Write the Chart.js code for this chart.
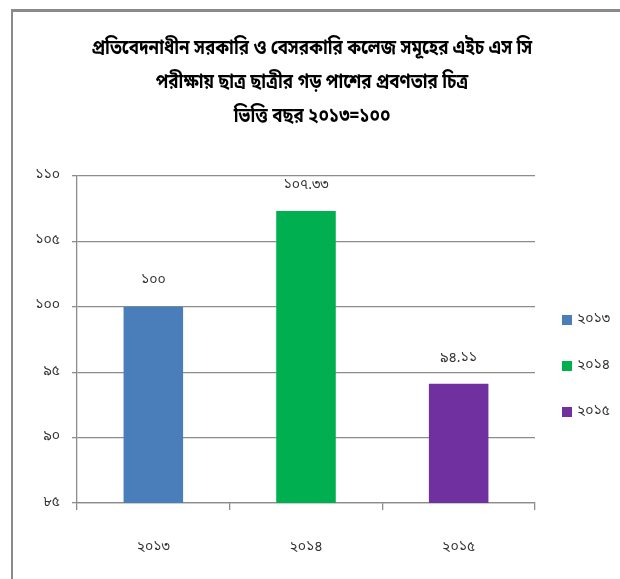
<!DOCTYPE html>
<html>
<head>
<meta charset="utf-8">
<script src="https://cdn.jsdelivr.net/npm/chart.js@4.4.1/dist/chart.umd.min.js"></script>
<style>
  html, body { margin: 0; padding: 0; background: #fff; }
  #wrap { position: relative; width: 620px; height: 579px; }
  #frame { position: absolute; left: 11px; top: 9px; right: 0; bottom: 0;
           border-top: 3px solid #8a8a8a; border-left: 2px solid #8a8a8a; pointer-events: none; }
  canvas { position: absolute; left: 0; top: 0; }
</style>
</head>
<body>
<div id="wrap">
  <canvas id="c" width="620" height="579"></canvas>
  <div id="frame"></div>
</div>
<script>
// ---- data ----
const categories = ['২০১৩', '২০১৪', '২০১৫'];
const values = [100, 107.33, 94.11];
const valueLabels = ['১০০', '১০৭.৩৩', '৯৪.১১'];
const barColors = ['#4A7EBB', '#00B050', '#7030A0'];
const yTickValues = [85, 90, 95, 100, 105, 110];
const yTickLabels = ['৮৫', '৯০', '৯৫', '১০০', '১০৫', '১১০'];
const titleLines = [
  'প্রতিবেদনাধীন সরকারি ও বেসরকারি কলেজ সমূহের এইচ এস সি',
  'পরীক্ষায় ছাত্র ছাত্রীর গড় পাশের প্রবণতার চিত্র',
  'ভিত্তি বছর ২০১৩=১০০'
];

const FONT = '"Noto Sans Bengali", "Noto Serif Bengali", "Lohit Bengali", "Noto Sans", sans-serif';

const titlePlugin = {
  id: 'centeredTitle',
  afterDraw(chart) {
    const ctx = chart.ctx;
    ctx.save();
    ctx.font = 'bold 21px ' + FONT;
    ctx.fillStyle = '#000';
    ctx.textAlign = 'center';
    ctx.textBaseline = 'middle';
    const cx = 312, y0 = 50, step = 34, sx = 0.81;
    titleLines.forEach((line, i) => {
      ctx.save();
      ctx.translate(cx, y0 + i * step);
      ctx.scale(sx, 1);
      ctx.fillText(line, 0, 0);
      ctx.restore();
    });
    ctx.restore();
  }
};

const valueLabelPlugin = {
  id: 'valueLabels',
  afterDatasetsDraw(chart) {
    const ctx = chart.ctx;
    const meta = chart.getDatasetMeta(0);
    ctx.save();
    ctx.font = '14px ' + FONT;
    ctx.fillStyle = '#333';
    ctx.textAlign = 'center';
    ctx.textBaseline = 'middle';
    meta.data.forEach((bar, i) => {
      ctx.fillText(valueLabels[i], bar.x, bar.y - 25);
    });
    ctx.restore();
  }
};

const legendPlugin = {
  id: 'customLegend',
  afterDraw(chart) {
    const ctx = chart.ctx;
    ctx.save();
    ctx.font = '14px ' + FONT;
    ctx.textBaseline = 'middle';
    ctx.textAlign = 'left';
    const x0 = 562, yStart = 320, step = 46;
    categories.forEach((c, i) => {
      const y = yStart + i * step;
      ctx.fillStyle = barColors[i];
      ctx.fillRect(x0, y - 5, 10, 10);
      ctx.fillStyle = '#333';
      ctx.fillText(c, x0 + 15, y);
    });
    ctx.restore();
  }
};

new Chart(document.getElementById('c'), {
  type: 'bar',
  data: {
    labels: categories,
    datasets: [{
      label: 'গড় পাশের প্রবণতা',
      data: values,
      backgroundColor: barColors,
      borderWidth: 0,
      barPercentage: 0.39,
      categoryPercentage: 1.0
    }]
  },
  options: {
    responsive: false,
    animation: false,
    layout: { padding: { left: 0, right: 85, top: 176, bottom: 0 } },
    plugins: {
      legend: { display: false },
      tooltip: { enabled: false },
      title: { display: false }
    },
    scales: {
      x: {
        offset: true,
        grid: { display: true, drawOnChartArea: false, drawTicks: true, tickLength: 7, color: '#8c8c8c', lineWidth: 1.3, offset: true },
        border: { display: true, color: '#8c8c8c', width: 1.3 },
        ticks: { color: '#333', font: { family: FONT, size: 14 }, padding: 30 },
        afterFit(scale) { scale.height = 76; }
      },
      y: {
        min: 85,
        max: 110,
        afterBuildTicks(scale) { scale.ticks = yTickValues.map(v => ({ value: v })); },
        grid: { color: '#8c8c8c', lineWidth: 1.3, tickLength: 5 },
        border: { display: true, color: '#8c8c8c', width: 1.3 },
        ticks: {
          color: '#333',
          font: { family: FONT, size: 14 },
          padding: 12,
          callback(value) { const i = yTickValues.indexOf(value); return i >= 0 ? yTickLabels[i] : ''; }
        },
        afterFit(scale) { scale.width = 77; }
      }
    }
  },
  plugins: [titlePlugin, valueLabelPlugin, legendPlugin]
});
</script>
</body>
</html>
